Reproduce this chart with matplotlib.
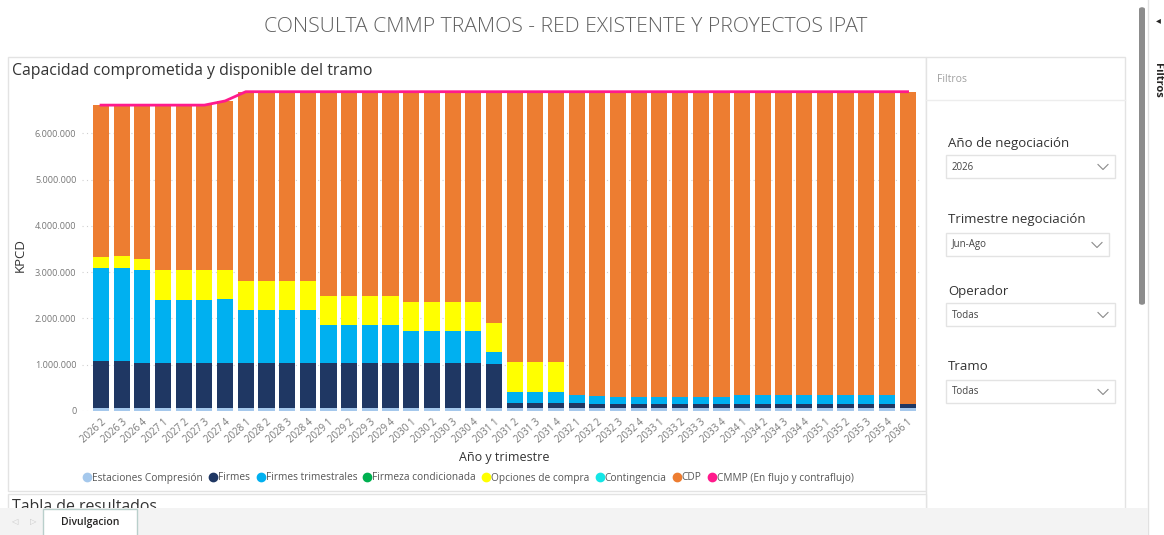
import matplotlib
matplotlib.use("Agg")
import matplotlib.pyplot as plt
import numpy as np
from matplotlib.patches import Rectangle, FancyBboxPatch
from matplotlib.lines import Line2D
from matplotlib.ticker import FuncFormatter

W, H = 1164, 535

# ---- data (KPCD, in thousands) ----
periods = ["2026 2", "2026 3", "2026 4",
           "2027 1", "2027 2", "2027 3", "2027 4",
           "2028 1", "2028 2", "2028 3", "2028 4",
           "2029 1", "2029 2", "2029 3", "2029 4",
           "2030 1", "2030 2", "2030 3", "2030 4",
           "2031 1", "2031 2", "2031 3", "2031 4",
           "2032 1", "2032 2", "2032 3", "2032 4",
           "2033 1", "2033 2", "2033 3", "2033 4",
           "2034 1", "2034 2", "2034 3", "2034 4",
           "2035 1", "2035 2", "2035 3", "2035 4",
           "2036 1"]

estaciones = [70] * 40
firmes = [1015, 1015] + [975] * 17 + [940] + [100] * 4 + [90] + [75] * 14 + [80]
firmes_trim = [1995, 2015, 1995, 1355, 1355, 1355, 1365,
               1145, 1145, 1145, 1145, 805, 805, 805, 805,
               675, 675, 675, 675, 260, 250, 250, 250,
               170, 160, 165, 165, 165, 165, 165, 165,
               195, 195, 195, 195, 195, 195, 195, 195, 0]
firmeza_cond = [0] * 40
opciones = [250, 250, 240, 640, 640, 640, 640,
            630, 630, 630, 630, 630, 630, 630, 630,
            640, 640, 640, 640, 630, 630, 630, 630] + [0] * 17
contingencia = [0] * 40
cdp = [3280, 3260, 3330, 3570, 3570, 3570, 3650,
       4080, 4080, 4080, 4080, 4420, 4420, 4420, 4420,
       4540, 4540, 4540, 4540, 5000, 5850, 5850, 5850,
       6560, 6580, 6590, 6590, 6590, 6590, 6590, 6590,
       6560, 6560, 6560, 6560, 6560, 6560, 6560, 6560, 6750]
cmmp = [6610] * 6 + [6700] + [6900] * 33

series_names = ["Estaciones Compresión", "Firmes", "Firmes trimestrales",
                "Firmeza condicionada", "Opciones de compra", "Contingencia", "CDP"]
series_values = [estaciones, firmes, firmes_trim, firmeza_cond, opciones, contingencia, cdp]
series_colors = ["#A5C8EC", "#1F3763", "#00B0F0", "#00B050", "#FFFF00", "#14E6E6", "#ED7D31"]
line_name = "CMMP (En flujo y contraflujo)"
line_color = "#FF1A8C"

FONT = "Open Sans"
plt.rcParams["font.family"] = [FONT, "DejaVu Sans"]


def fx(x):
    return x / W


def fy(y):
    return 1 - y / H


def box(x0, y0, x1, y1, **kw):
    # rectangle given in pixel coordinates (origin top-left)
    r = Rectangle((fx(x0), fy(y1)), (x1 - x0) / W, (y1 - y0) / H,
                  transform=fig.transFigure, **kw)
    fig.patches.append(r)
    return r


def hline(y, x0, x1, color="#E6E6E6", lw=1, z=1):
    fig.add_artist(Line2D([fx(x0), fx(x1)], [fy(y), fy(y)], color=color, lw=lw,
                          transform=fig.transFigure, zorder=z))


def vline(x, y0, y1, color="#E6E6E6", lw=1, z=1):
    fig.add_artist(Line2D([fx(x), fx(x)], [fy(y0), fy(y1)], color=color, lw=lw,
                          transform=fig.transFigure, zorder=z))


fig = plt.figure(figsize=(W / 100, H / 100), dpi=100, facecolor="white")

# page header
fig.text(fx(566), fy(27), "CONSULTA CMMP TRAMOS - RED EXISTENTE Y PROYECTOS IPAT",
         ha="center", va="center", fontsize=15.2, fontweight="light", color="#606060")

# chart card and filter card
box(8, 57, 926, 491, facecolor="white", edgecolor="#E3E3E3", lw=1, zorder=0.2)
box(926, 57, 1125, 510, facecolor="white", edgecolor="#E3E3E3", lw=1, zorder=0.2)
hline(100, 926, 1125, color="#EDEDED")
box(8, 494, 926, 515, facecolor="white", edgecolor="#E3E3E3", lw=1, zorder=0.2)

fig.text(fx(12), fy(71), "Capacidad comprometida y disponible del tramo",
         ha="left", va="center", fontsize=11.4, color="#333333")
fig.text(fx(12), fy(507), "Tabla de resultados", ha="left", va="center",
         fontsize=11.4, color="#333333", zorder=2)

# ---- chart ----
ax = fig.add_axes([fx(82), fy(411), (920 - 82) / W, (411 - 88) / H])
ax.set_zorder(1)
x = np.arange(len(periods))
bottom = np.zeros(len(periods))
for name, vals, col in zip(series_names, series_values, series_colors):
    v = np.array(vals) * 1000.0
    ax.bar(x, v, bottom=bottom, width=0.78, color=col, linewidth=0, zorder=2, label=name)
    bottom += v
ax.plot(x, np.array(cmmp) * 1000.0, color=line_color, lw=2, zorder=3, label=line_name)

ax.set_xlim(-0.92, 39.6)
ax.set_ylim(0, 6.98e6)
ax.set_yticks(np.arange(0, 7e6, 1e6))
ax.yaxis.set_major_formatter(FuncFormatter(lambda v, p: f"{int(v):,}".replace(",", ".")))
ax.set_xticks(x)
ax.set_xticklabels(periods, rotation=42, ha="right", rotation_mode="anchor")
ax.tick_params(axis="both", length=0, labelsize=7, labelcolor="#777777")
ax.tick_params(axis="y", pad=4, labelsize=6.6)
ax.tick_params(axis="x", pad=4)
ax.grid(axis="y", linestyle=(0, (1, 3)), color="#D0D0D0", lw=0.8, zorder=0)
ax.set_axisbelow(True)
for s in ax.spines.values():
    s.set_visible(False)
ax.set_facecolor("none")

fig.text(fx(20), fy(255), "KPCD", rotation=90, ha="center", va="center",
         fontsize=9.5, color="#333333")
fig.text(fx(504), fy(458), "Año y trimestre", ha="center", va="center",
         fontsize=9, color="#333333")

handles = [Line2D([], [], marker="o", ls="", color=c, markersize=6)
           for c in series_colors + [line_color]]
labels = series_names + [line_name]
fig.legend(handles, labels, loc="center", bbox_to_anchor=(fx(468), fy(478)),
           ncol=8, frameon=False, fontsize=7.3, handletextpad=0.0,
           columnspacing=0.5, handlelength=1.0, labelcolor="#555555")

# ---- filter panel ----
fig.text(fx(937), fy(79), "Filtros", ha="left", va="center", fontsize=7.5, color="#A0A0A0")
slicers = [("Año de negociación", "2026", 143, 155, 1115),
           ("Trimestre negociación", "Jun-Ago", 220, 233, 1109),
           ("Operador", "Todas", 292, 303, 1115),
           ("Tramo", "Todas", 367, 380, 1115)]
for title, value, ty, by, bx1 in slicers:
    fig.text(fx(948), fy(ty), title, ha="left", va="center", fontsize=9.5, color="#333333")
    box(946, by, bx1, by + 23, facecolor="white", edgecolor="#E3E3E3", lw=1, zorder=1)
    fig.text(fx(952), fy(by + 12), value, ha="left", va="center", fontsize=7, color="#444444")
    cx, cy = bx1 - 12, by + 12
    fig.add_artist(Line2D([fx(cx - 5), fx(cx), fx(cx + 5)], [fy(cy - 2.5), fy(cy + 2.5), fy(cy - 2.5)],
                          color="#8A8A8A", lw=0.8, transform=fig.transFigure, zorder=2))

# right scrollbar and collapsed filters pane
fig.patches.append(FancyBboxPatch((fx(1139), fy(305)), 6 / W, 298 / H,
                                  boxstyle="round,pad=0,rounding_size=0.004",
                                  transform=fig.transFigure, facecolor="#8C8C8C",
                                  edgecolor="none", zorder=2))
vline(1148, 0, H, color="#E1E1E1")
fig.text(fx(1157), fy(80), "Filtros", rotation=-90, ha="center", va="center",
         fontsize=8, fontweight="bold", color="#252423")
fig.text(fx(1158), fy(20), "◂", ha="center", va="center", fontsize=7, color="#252423",
         family="DejaVu Sans")

# bottom page tab bar
box(0, 508, 1148, 535, facecolor="#F3F3F3", edgecolor="none", zorder=2.5)
box(43, 509, 137, 536, facecolor="white", edgecolor="#B9CFCB", lw=1, zorder=2.6)
fig.text(fx(90), fy(523), "Divulgacion", ha="center", va="center", fontsize=7.5,
         fontweight="semibold", color="#252423", zorder=2.7)
fig.text(fx(14), fy(522), "◁", ha="center", va="center", fontsize=6, color="#C8C8C8",
         family="DejaVu Sans", zorder=2.7)
fig.text(fx(33), fy(522), "▷", ha="center", va="center", fontsize=6, color="#C8C8C8",
         family="DejaVu Sans", zorder=2.7)

fig.savefig("out.png", dpi=100, facecolor="white")
